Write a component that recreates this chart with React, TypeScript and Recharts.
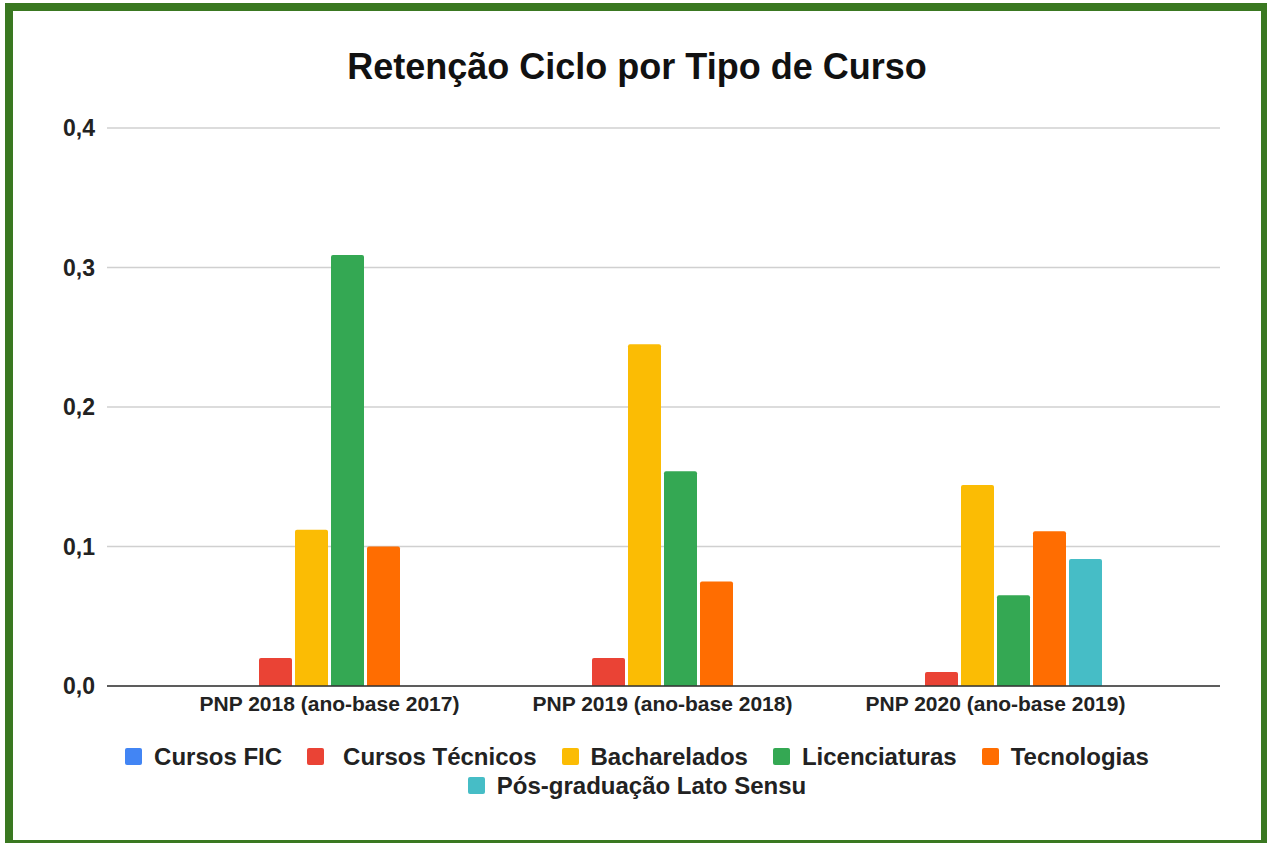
import { BarChart, Bar, XAxis, YAxis, CartesianGrid, Legend } from 'recharts';

const categories = [
  'PNP 2018 (ano-base 2017)',
  'PNP 2019 (ano-base 2018)',
  'PNP 2020 (ano-base 2019)',
];

const cursosFic = [0, 0, 0];
const cursosTecnicos = [0.02, 0.02, 0.01];
const bacharelados = [0.112, 0.245, 0.144];
const licenciaturas = [0.309, 0.154, 0.065];
const tecnologias = [0.1, 0.075, 0.111];
const posGraduacao = [null, null, 0.091];

const yTicks = [0, 0.1, 0.2, 0.3, 0.4];

const series = [
  { key: 'fic', name: 'Cursos FIC', color: '#4285f4', values: cursosFic },
  { key: 'tecnicos', name: 'Cursos Técnicos', color: '#ea4335', values: cursosTecnicos },
  { key: 'bach', name: 'Bacharelados', color: '#fbbc04', values: bacharelados },
  { key: 'lic', name: 'Licenciaturas', color: '#34a853', values: licenciaturas },
  { key: 'tec', name: 'Tecnologias', color: '#ff6d01', values: tecnologias },
  { key: 'pos', name: 'Pós-graduação Lato Sensu', color: '#46bdc6', values: posGraduacao },
];

const data = categories.map((cat, i) => {
  const row: Record<string, string | number | null> = { cat };
  series.forEach((s) => {
    row[s.key] = s.values[i];
  });
  return row;
});

const FONT = '"Liberation Sans", Arial, sans-serif';

function formatTick(v: number) {
  return v.toFixed(1).replace('.', ',');
}

// legend keeps the series order, five entries on the first row
function LegendRows() {
  const rows = [series.slice(0, 5), series.slice(5)];
  return (
    <div style={{ height: 76, paddingTop: 16, boxSizing: 'border-box' }}>
      {rows.map((row, r) => (
        <div
          key={r}
          style={{
            display: 'flex',
            justifyContent: 'center',
            alignItems: 'center',
            height: 29,
            gap: 25,
          }}
        >
          {row.map((s) => (
            <div key={s.key} style={{ display: 'flex', alignItems: 'center' }}>
              <span
                style={{
                  width: 17,
                  height: 17,
                  borderRadius: 2,
                  background: s.color,
                  marginRight: s.key === 'tecnicos' ? 19 : 12,
                  display: 'inline-block',
                }}
              />
              <span
                style={{
                  fontFamily: FONT,
                  fontWeight: 700,
                  fontSize: 24,
                  color: '#222',
                }}
              >
                {s.name}
              </span>
            </div>
          ))}
        </div>
      ))}
    </div>
  );
}

export default function App() {
  return (
    <div
      style={{
        position: 'fixed',
        left: 0,
        top: 0,
        width: 1267,
        height: 843,
        overflow: 'hidden',
        background: '#fff',
      }}
    >
      <div
        style={{
          position: 'absolute',
          left: 5,
          top: 3,
          width: 1264,
          height: 845,
          border: '8px solid #3a7821',
          boxSizing: 'border-box',
        }}
      />
      <div
        style={{
          position: 'absolute',
          left: 0,
          top: 46,
          width: 1274,
          textAlign: 'center',
          fontFamily: FONT,
          fontWeight: 700,
          fontSize: 36,
          color: '#111',
        }}
      >
        Retenção Ciclo por Tipo de Curso
      </div>
      <div style={{ position: 'absolute', left: 0, top: 0 }}>
        <BarChart
          width={1267}
          height={843}
          data={data}
          margin={{ top: 128, right: 47, left: 0, bottom: 41 }}
          barSize={33}
          barGap={3}
        >
          <CartesianGrid vertical={false} stroke="#d0d0d0" strokeWidth={1.3} />
          <XAxis
            dataKey="cat"
            height={40}
            padding={{ left: 56, right: 58 }}
            tickLine={false}
            axisLine={{ stroke: '#333', strokeWidth: 1.5 }}
            tick={{ fill: '#222', fontSize: 21, fontWeight: 700, fontFamily: FONT }}
            tickMargin={4}
          />
          <YAxis
            width={107}
            domain={[0, 0.4]}
            ticks={yTicks}
            tickFormatter={formatTick}
            axisLine={false}
            tickLine={false}
            tickMargin={6}
            tick={{ fill: '#222', fontSize: 23, fontWeight: 700, fontFamily: FONT }}
          />
          <Legend
            verticalAlign="bottom"
            content={<LegendRows />}
            wrapperStyle={{ left: 0, width: 1274 }}
          />
          {series.map((s) => (
            <Bar
              key={s.key}
              dataKey={s.key}
              name={s.name}
              fill={s.color}
              radius={[2, 2, 0, 0]}
              isAnimationActive={false}
            />
          ))}
        </BarChart>
      </div>
    </div>
  );
}
